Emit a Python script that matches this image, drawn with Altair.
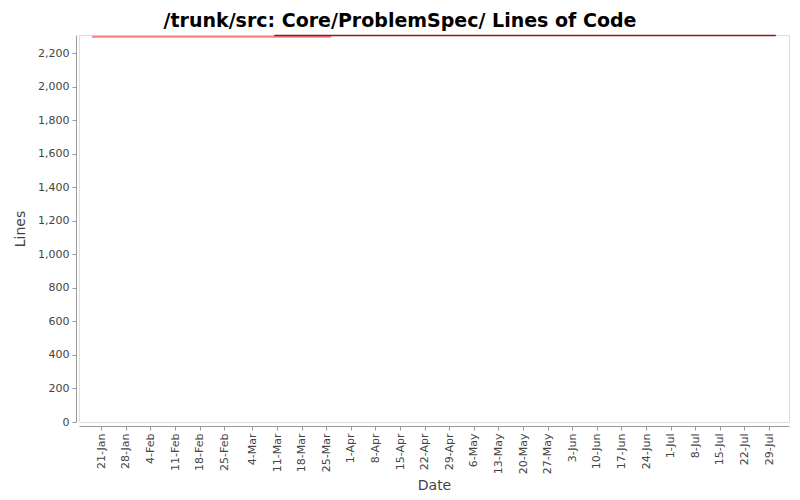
import altair as alt
import pandas as pd

title_text = "/trunk/src: Core/ProblemSpec/ Lines of Code"

# Series
early_dates = ["2008-01-18T08:00", "2008-03-26T10:00"]
early_lines = [2298, 2298]
late_dates = ["2008-03-10T05:00", "2008-07-30T22:00"]
late_lines = [2305, 2305]

tick_dates = [
    "2008-01-21", "2008-01-28", "2008-02-04", "2008-02-11", "2008-02-18", "2008-02-25",
    "2008-03-04", "2008-03-11", "2008-03-18", "2008-03-25", "2008-04-01", "2008-04-08",
    "2008-04-15", "2008-04-22", "2008-04-29", "2008-05-06", "2008-05-13", "2008-05-20",
    "2008-05-27", "2008-06-03", "2008-06-10", "2008-06-17", "2008-06-24", "2008-07-01",
    "2008-07-08", "2008-07-15", "2008-07-22", "2008-07-29",
]
y_ticks = [0, 200, 400, 600, 800, 1000, 1200, 1400, 1600, 1800, 2000, 2200]

df_early = pd.DataFrame({"date": early_dates, "lines": early_lines})
df_late = pd.DataFrame({"date": late_dates, "lines": late_lines})

font = "DejaVu Sans"
x_domain = ["2008-01-14T16:00", "2008-08-03T16:00"]

x_enc = alt.X(
    "date:T",
    scale=alt.Scale(domain=x_domain),
    axis=alt.Axis(
        title="Date",
        values=[alt.DateTime(year=int(d[:4]), month=int(d[5:7]), date=int(d[8:10])) for d in tick_dates],
        labelExpr="timeFormat(datum.value, '%-d-%b')",
        labelAngle=270,
        labelAlign="right",
        labelBaseline="middle",
        labelFont=font,
        labelFontSize=11,
        labelColor="#444444",
        titleFont=font,
        titleFontSize=14,
        titleFontWeight="normal",
        titleColor="#444444",
        titlePadding=5,
        grid=False,
        offset=4,
        domainColor="#999999",
        tickColor="#999999",
        tickSize=4,
        labelPadding=3,
        labelOverlap=False,
    ),
)
y_enc = alt.Y(
    "lines:Q",
    scale=alt.Scale(domain=[0, 2308], nice=False, zero=True),
    axis=alt.Axis(
        title="Lines",
        values=y_ticks,
        format=",d",
        labelFont=font,
        labelFontSize=11,
        labelColor="#444444",
        titleFont=font,
        titleFontSize=14,
        titleFontWeight="normal",
        titleColor="#444444",
        titlePadding=10,
        grid=False,
        offset=3,
        domainColor="#999999",
        tickColor="#999999",
        tickSize=4,
        labelPadding=3,
    ),
)

early = alt.Chart(df_early).mark_line(color="#ff8080", strokeWidth=2).encode(x=x_enc, y=y_enc)
late = alt.Chart(df_late).mark_line(color="#8b1a1a", strokeWidth=1.5).encode(x=x_enc, y=y_enc)

chart = (
    alt.layer(early, late)
    .properties(
        width=710,
        height=387,
        autosize=alt.AutoSizeParams(type="none"),
        padding={"left": 71, "top": 27, "right": 3, "bottom": 76},
        title=alt.TitleParams(
            text=title_text,
            font=font,
            fontSize=19,
            fontWeight="bold",
            color="#000000",
            anchor="middle",
            dx=-34,
            offset=2,
        ),
    )
    .configure_view(stroke="#808080", strokeWidth=1)
    .configure(background="white")
)

chart.save("out.html", embed_options={"renderer": "svg", "actions": False})
